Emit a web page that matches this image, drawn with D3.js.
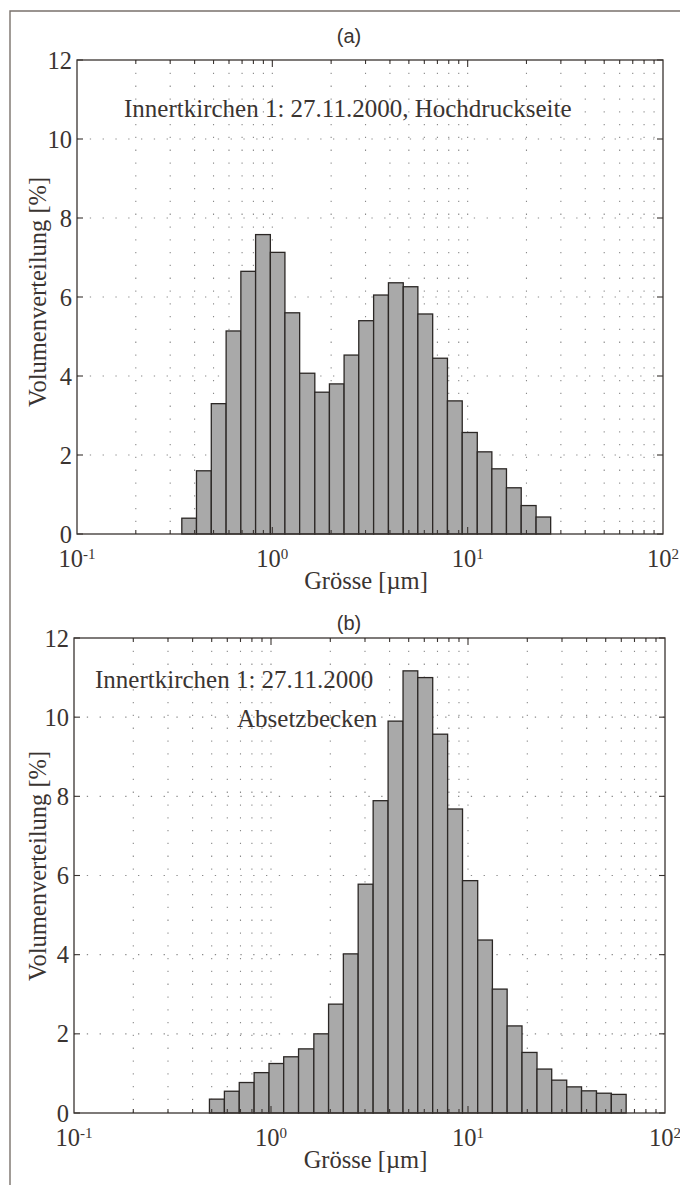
<!DOCTYPE html>
<html>
<head>
<meta charset="utf-8">
<script src="https://cdn.jsdelivr.net/npm/d3@7"></script>
<style>
  body { margin: 0; background: #fff; }
  svg { display: block; }
</style>
</head>
<body>
<div id="chart"></div>
<script>
// bin edges in µm (shared by both panels)
var binEdges = [0.344, 0.409, 0.487, 0.580, 0.690, 0.821, 0.977, 1.16, 1.38, 1.65,
                1.96, 2.33, 2.77, 3.30, 3.93, 4.68, 5.56, 6.62, 7.88, 9.38,
                11.2, 13.3, 15.8, 18.8, 22.4, 26.6, 31.7, 37.7, 44.9, 53.4, 63.5];

// (a) Hochdruckseite, volume % per bin
var valuesA = [0.40, 1.60, 3.30, 5.14, 6.65, 7.58, 7.13, 5.60, 4.07, 3.59,
               3.80, 4.53, 5.40, 6.05, 6.36, 6.26, 5.57, 4.45, 3.37, 2.57,
               2.08, 1.65, 1.17, 0.72, 0.43, 0, 0, 0, 0, 0];

// (b) Absetzbecken, volume % per bin
var valuesB = [0, 0, 0.35, 0.55, 0.77, 1.02, 1.25, 1.42, 1.62, 2.00,
               2.75, 4.02, 5.78, 7.89, 9.90, 11.17, 11.00, 9.57, 7.68, 5.87,
               4.37, 3.13, 2.20, 1.53, 1.11, 0.83, 0.66, 0.56, 0.50, 0.47];

var yTicks = [0, 2, 4, 6, 8, 10, 12];
var xDecades = [0.1, 1, 10, 100];
var xExponents = ["-1", "0", "1", "2"];
var minorMult = [2, 3, 4, 5, 6, 7, 8, 9];

var xLabel = "Grösse [µm]";
var yLabel = "Volumenverteilung [%]";

var W = 680, H = 1185;
var serif = "'Liberation Serif', 'Times New Roman', serif";
var sans = "'Liberation Sans', Arial, sans-serif";
var ink = "#3a3431";
var fs = "24.5px";

var svg = d3.select("#chart").append("svg")
    .attr("width", W)
    .attr("height", H);

// scanned page frame
svg.append("path")
    .attr("d", "M10," + H + " L10,11 L" + W + ",11")
    .attr("fill", "none")
    .attr("stroke", "#7a726c")
    .attr("stroke-width", 1.4);

function drawPanel(p) {
  var x = d3.scaleLog().domain([0.1, 100]).range([p.left, p.right]);
  var y = d3.scaleLinear().domain([0, 12]).range([p.bottom, p.top]);
  var g = svg.append("g");

  // minor + major log positions
  var xGrid = [];
  xDecades.slice(0, 3).forEach(function(d) {
    minorMult.forEach(function(m) { xGrid.push(d * m); });
    if (d > 0.1) xGrid.push(d);
  });

  // dotted grid
  g.selectAll(".vg").data(xGrid).enter().append("line")
      .attr("x1", function(d) { return x(d); })
      .attr("x2", function(d) { return x(d); })
      .attr("y1", p.top).attr("y2", p.bottom)
      .attr("stroke", "#8a8a8a").attr("stroke-width", 1.1)
      .attr("stroke-dasharray", "1.3,11.5");
  g.selectAll(".hg").data(yTicks.slice(1, -1)).enter().append("line")
      .attr("x1", p.left).attr("x2", p.right)
      .attr("y1", function(d) { return y(d); })
      .attr("y2", function(d) { return y(d); })
      .attr("stroke", "#8a8a8a").attr("stroke-width", 1.1)
      .attr("stroke-dasharray", "1.3,11.5");

  // histogram bars
  var bins = p.values.map(function(v, i) {
    return { x0: binEdges[i], x1: binEdges[i + 1], v: v };
  }).filter(function(b) { return b.v > 0; });

  g.selectAll(".bar").data(bins).enter().append("rect")
      .attr("x", function(d) { return x(d.x0); })
      .attr("width", function(d) { return x(d.x1) - x(d.x0); })
      .attr("y", function(d) { return y(d.v); })
      .attr("height", function(d) { return y(0) - y(d.v); })
      .attr("fill", "#a9a9a9")
      .attr("stroke", "#2b2725")
      .attr("stroke-width", 1.3);

  // axes box
  g.append("rect")
      .attr("x", p.left).attr("y", p.top)
      .attr("width", p.right - p.left).attr("height", p.bottom - p.top)
      .attr("fill", "none").attr("stroke", ink).attr("stroke-width", 1.3);

  // x ticks (bottom pointing up, top pointing down)
  var xTickData = xGrid.map(function(d) {
    return { v: d, major: xDecades.indexOf(d) >= 0 };
  });
  [p.bottom, p.top].forEach(function(yy, k) {
    var dir = k === 0 ? -1 : 1;
    g.selectAll(null).data(xTickData).enter().append("line")
        .attr("x1", function(d) { return x(d.v); })
        .attr("x2", function(d) { return x(d.v); })
        .attr("y1", yy)
        .attr("y2", function(d) { return yy + dir * (d.major ? 7 : 4); })
        .attr("stroke", ink).attr("stroke-width", 1.1);
  });

  // y ticks (left pointing right, right pointing left)
  [p.left, p.right].forEach(function(xx, k) {
    var dir = k === 0 ? 1 : -1;
    g.selectAll(null).data(yTicks).enter().append("line")
        .attr("x1", xx).attr("x2", xx + dir * 6)
        .attr("y1", function(d) { return y(d); })
        .attr("y2", function(d) { return y(d); })
        .attr("stroke", ink).attr("stroke-width", 1.1);
  });

  // y tick labels
  g.selectAll(".yl").data(yTicks).enter().append("text")
      .attr("x", p.left - 5)
      .attr("y", function(d) { return y(d); })
      .attr("dy", "0.35em")
      .attr("text-anchor", "end")
      .style("font-family", serif).style("font-size", fs)
      .style("fill", ink)
      .text(function(d) { return d; });

  // x tick labels 10^n
  var xl = g.selectAll(".xl").data(xDecades).enter().append("text")
      .attr("x", function(d) { return x(d); })
      .attr("y", p.bottom + 33)
      .attr("text-anchor", "middle")
      .style("font-family", serif).style("font-size", fs)
      .style("fill", ink);
  xl.append("tspan").text("10");
  xl.append("tspan")
      .attr("dy", "-0.55em")
      .style("font-size", "15px")
      .text(function(d, i) { return xExponents[i]; });

  // axis titles
  g.append("text")
      .attr("x", (p.left + p.right) / 2 - 4)
      .attr("y", p.bottom + 55)
      .attr("text-anchor", "middle")
      .style("font-family", serif).style("font-size", fs)
      .style("fill", ink)
      .text(xLabel);
  g.append("text")
      .attr("transform", "translate(46," + p.labelMid + ") rotate(-90)")
      .attr("text-anchor", "middle")
      .style("font-family", serif).style("font-size", fs)
      .style("fill", ink)
      .text(yLabel);

  // panel letter
  g.append("text")
      .attr("x", 349).attr("y", p.letterY)
      .attr("text-anchor", "middle")
      .style("font-family", sans).style("font-size", "20px")
      .style("fill", ink)
      .text(p.letter);

  // annotation
  p.notes.forEach(function(n) {
    g.append("text")
        .attr("x", n.x).attr("y", n.y)
        .style("font-family", serif).style("font-size", "25px")
        .style("fill", ink)
        .text(n.text);
  });
}

drawPanel({
  left: 77, right: 663, top: 60, bottom: 534,
  values: valuesA, letter: "(a)", letterY: 43, labelMid: 292,
  notes: [{ x: 124, y: 117, text: "Innertkirchen 1: 27.11.2000, Hochdruckseite" }]
});

drawPanel({
  left: 74, right: 665, top: 638, bottom: 1113,
  values: valuesB, letter: "(b)", letterY: 630, labelMid: 866,
  notes: [
    { x: 95, y: 688, text: "Innertkirchen 1: 27.11.2000" },
    { x: 237, y: 727, text: "Absetzbecken" }
  ]
});
</script>
</body>
</html>
